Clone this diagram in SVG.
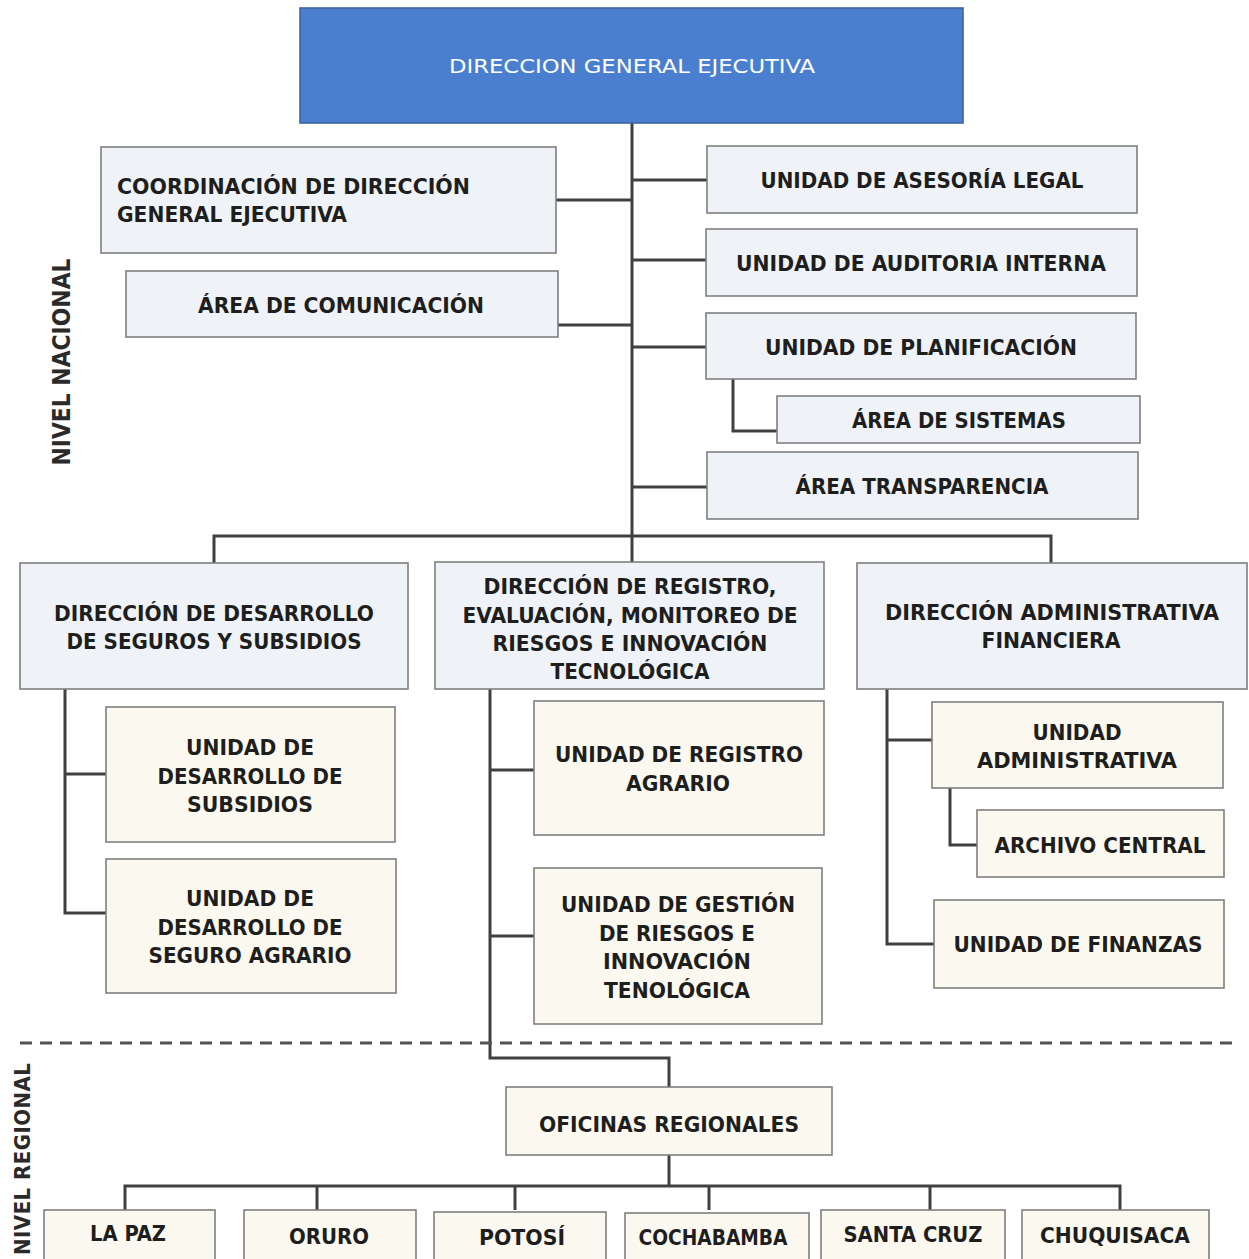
<svg xmlns="http://www.w3.org/2000/svg" width="1249" height="1259" viewBox="0 0 1249 1259">
<style>
.bx{fill:#eff3f7;stroke:#7f7f7f;stroke-width:1.6}
.bg{fill:#fbf9ef;stroke:#7f7f7f;stroke-width:1.6}
.t{font-family:"DejaVu Sans Condensed","DejaVu Sans",Verdana,sans-serif;font-weight:bold;font-size:22px;fill:#1e1e1e;text-anchor:middle}
.tl{text-anchor:start}
.top{fill:#4a7fcf;stroke:#3c659f;stroke-width:1.6}
.tw{font-family:"DejaVu Sans Condensed","DejaVu Sans",Verdana,sans-serif;font-size:20px;fill:#ffffff;text-anchor:middle}
.side{font-family:"DejaVu Sans Condensed","DejaVu Sans",Verdana,sans-serif;font-weight:bold;font-size:24px;fill:#2a2a2a;text-anchor:middle}
.c{fill:none;stroke:#404040;stroke-width:3}
.d{fill:none;stroke:#555;stroke-width:3;stroke-dasharray:12 8}
</style>
<rect width="1249" height="1259" fill="#ffffff"/>

<g id="connectors">
<path class="c" d="M632 123V563"/>
<path class="c" d="M556 200H632M558 325H632"/>
<path class="c" d="M632 180H707M632 260H706M632 347H706M632 487H707"/>
<path class="c" d="M733 379V431H777"/>
<path class="c" d="M214 563V536H1051V563"/>
<path class="c" d="M65 689V913H106M65 774H106"/>
<path class="c" d="M490 689V1058H669V1087M490 770H534M490 936H534"/>
<path class="c" d="M887 689V944H934M887 740H932"/>
<path class="c" d="M950 788V845H977"/>
<path class="c" d="M669 1155V1186M125 1210V1186H1120V1210M317 1186V1210M515 1186V1210M709 1186V1210M930 1186V1210"/>
<path class="d" d="M20 1043H1240"/>
</g>

<g id="n-dge"><rect class="top" x="300" y="8" width="663" height="115"/>
<text class="tw" x="632" y="73" textLength="366" lengthAdjust="spacingAndGlyphs">DIRECCION GENERAL EJECUTIVA</text></g>

<g id="n-coord"><rect class="bx" x="101" y="147" width="455" height="106"/>
<text class="t tl" x="117" y="194" textLength="353" lengthAdjust="spacingAndGlyphs">COORDINACIÓN DE DIRECCIÓN</text>
<text class="t tl" x="117" y="222" textLength="230" lengthAdjust="spacingAndGlyphs">GENERAL EJECUTIVA</text></g>

<g id="n-com"><rect class="bx" x="126" y="271" width="432" height="66"/>
<text class="t" x="341" y="313" textLength="286" lengthAdjust="spacingAndGlyphs">ÁREA DE COMUNICACIÓN</text></g>

<g id="n-legal"><rect class="bx" x="707" y="146" width="430" height="67"/>
<text class="t" x="922" y="188" textLength="323" lengthAdjust="spacingAndGlyphs">UNIDAD DE ASESORÍA LEGAL</text></g>

<g id="n-audit"><rect class="bx" x="706" y="229" width="431" height="67"/>
<text class="t" x="921" y="271" textLength="370" lengthAdjust="spacingAndGlyphs">UNIDAD DE AUDITORIA INTERNA</text></g>

<g id="n-plan"><rect class="bx" x="706" y="313" width="430" height="66"/>
<text class="t" x="921" y="355" textLength="312" lengthAdjust="spacingAndGlyphs">UNIDAD DE PLANIFICACIÓN</text></g>

<g id="n-sis"><rect class="bx" x="777" y="396" width="363" height="47"/>
<text class="t" x="959" y="428" textLength="214" lengthAdjust="spacingAndGlyphs">ÁREA DE SISTEMAS</text></g>

<g id="n-trans"><rect class="bx" x="707" y="452" width="431" height="67"/>
<text class="t" x="922" y="494" textLength="253" lengthAdjust="spacingAndGlyphs">ÁREA TRANSPARENCIA</text></g>

<g id="n-ddss"><rect class="bx" x="20" y="563" width="388" height="126"/>
<text class="t" x="214" y="621" textLength="320" lengthAdjust="spacingAndGlyphs">DIRECCIÓN DE DESARROLLO</text>
<text class="t" x="214" y="649" textLength="295" lengthAdjust="spacingAndGlyphs">DE SEGUROS Y SUBSIDIOS</text></g>

<g id="n-dremrit"><rect class="bx" x="435" y="562" width="389" height="127"/>
<text class="t" x="630" y="594" textLength="293" lengthAdjust="spacingAndGlyphs">DIRECCIÓN DE REGISTRO,</text>
<text class="t" x="630" y="623" textLength="335" lengthAdjust="spacingAndGlyphs">EVALUACIÓN, MONITOREO DE</text>
<text class="t" x="630" y="651" textLength="275" lengthAdjust="spacingAndGlyphs">RIESGOS E INNOVACIÓN</text>
<text class="t" x="630" y="679" textLength="159" lengthAdjust="spacingAndGlyphs">TECNOLÓGICA</text></g>

<g id="n-daf"><rect class="bx" x="857" y="563" width="390" height="126"/>
<text class="t" x="1052" y="620" textLength="334" lengthAdjust="spacingAndGlyphs">DIRECCIÓN ADMINISTRATIVA</text>
<text class="t" x="1051" y="648" textLength="139" lengthAdjust="spacingAndGlyphs">FINANCIERA</text></g>

<g id="n-uds"><rect class="bg" x="106" y="707" width="289" height="135"/>
<text class="t" x="250" y="755" textLength="128" lengthAdjust="spacingAndGlyphs">UNIDAD DE</text>
<text class="t" x="250" y="784" textLength="185" lengthAdjust="spacingAndGlyphs">DESARROLLO DE</text>
<text class="t" x="250" y="812" textLength="126" lengthAdjust="spacingAndGlyphs">SUBSIDIOS</text></g>

<g id="n-udsa"><rect class="bg" x="106" y="859" width="290" height="134"/>
<text class="t" x="250" y="906" textLength="128" lengthAdjust="spacingAndGlyphs">UNIDAD DE</text>
<text class="t" x="250" y="935" textLength="185" lengthAdjust="spacingAndGlyphs">DESARROLLO DE</text>
<text class="t" x="250" y="963" textLength="203" lengthAdjust="spacingAndGlyphs">SEGURO AGRARIO</text></g>

<g id="n-ura"><rect class="bg" x="534" y="701" width="290" height="134"/>
<text class="t" x="679" y="762" textLength="248" lengthAdjust="spacingAndGlyphs">UNIDAD DE REGISTRO</text>
<text class="t" x="678" y="791" textLength="104" lengthAdjust="spacingAndGlyphs">AGRARIO</text></g>

<g id="n-ugr"><rect class="bg" x="534" y="868" width="288" height="156"/>
<text class="t" x="678" y="912" textLength="234" lengthAdjust="spacingAndGlyphs">UNIDAD DE GESTIÓN</text>
<text class="t" x="677" y="941" textLength="156" lengthAdjust="spacingAndGlyphs">DE RIESGOS E</text>
<text class="t" x="677" y="969" textLength="148" lengthAdjust="spacingAndGlyphs">INNOVACIÓN</text>
<text class="t" x="677" y="998" textLength="146" lengthAdjust="spacingAndGlyphs">TENOLÓGICA</text></g>

<g id="n-uadm"><rect class="bg" x="932" y="702" width="291" height="86"/>
<text class="t" x="1077" y="740" textLength="89" lengthAdjust="spacingAndGlyphs">UNIDAD</text>
<text class="t" x="1077" y="768" textLength="200" lengthAdjust="spacingAndGlyphs">ADMINISTRATIVA</text></g>

<g id="n-arch"><rect class="bg" x="977" y="810" width="247" height="67"/>
<text class="t" x="1100" y="853" textLength="211" lengthAdjust="spacingAndGlyphs">ARCHIVO CENTRAL</text></g>

<g id="n-fin"><rect class="bg" x="934" y="900" width="290" height="88"/>
<text class="t" x="1078" y="952" textLength="249" lengthAdjust="spacingAndGlyphs">UNIDAD DE FINANZAS</text></g>

<g id="n-ofr"><rect class="bg" x="506" y="1087" width="326" height="68"/>
<text class="t" x="669" y="1132" textLength="260" lengthAdjust="spacingAndGlyphs">OFICINAS REGIONALES</text></g>

<g id="n-lpz"><rect class="bg" x="44" y="1210" width="171" height="56"/>
<text class="t" x="128" y="1241" textLength="76" lengthAdjust="spacingAndGlyphs">LA PAZ</text></g>
<g id="n-oru"><rect class="bg" x="244" y="1210" width="172" height="56"/>
<text class="t" x="329" y="1244" textLength="80" lengthAdjust="spacingAndGlyphs">ORURO</text></g>
<g id="n-pot"><rect class="bg" x="434" y="1212" width="172" height="54"/>
<text class="t" x="522" y="1245" textLength="86" lengthAdjust="spacingAndGlyphs">POTOSÍ</text></g>
<g id="n-cbba"><rect class="bg" x="625" y="1213" width="184" height="53"/>
<text class="t" x="713" y="1245" textLength="149" lengthAdjust="spacingAndGlyphs">COCHABAMBA</text></g>
<g id="n-scz"><rect class="bg" x="821" y="1210" width="184" height="56"/>
<text class="t" x="913" y="1242" textLength="139" lengthAdjust="spacingAndGlyphs">SANTA CRUZ</text></g>
<g id="n-chq"><rect class="bg" x="1022" y="1210" width="187" height="56"/>
<text class="t" x="1115" y="1243" textLength="150" lengthAdjust="spacingAndGlyphs">CHUQUISACA</text></g>

<g id="labels">
<text class="side" transform="translate(70,362) rotate(-90)" textLength="207" lengthAdjust="spacingAndGlyphs">NIVEL NACIONAL</text>
<text class="side" style="font-size:22px" transform="translate(30,1159) rotate(-90)" textLength="192" lengthAdjust="spacing">NIVEL REGIONAL</text>
</g>
</svg>
